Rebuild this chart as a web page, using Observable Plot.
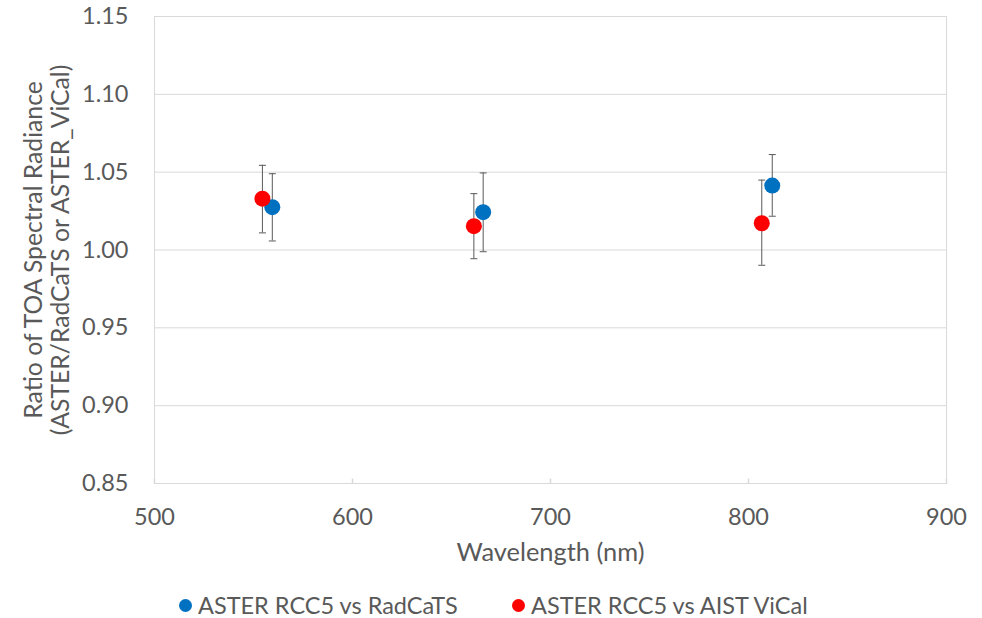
<!DOCTYPE html>
<html>
<head>
<meta charset="utf-8">
<script src="https://cdn.jsdelivr.net/npm/d3@7"></script>
<script src="https://cdn.jsdelivr.net/npm/@observablehq/plot@0.6"></script>
<style>
  html, body { margin: 0; padding: 0; background: #fff; }
  #chart { width: 982px; }
  .legend { position: relative; height: 48px; font-family: Lato, sans-serif; font-size: 23.5px; line-height: 24px; color: #595959; }
  .item { display: flex; align-items: center; position: absolute; top: 23px; }
  .sw { width: 13px; height: 13px; border-radius: 50%; display: inline-block; margin-right: 6px; }
</style>
</head>
<body>
<div id="chart"></div>
<script>
// ---- data ----
const seriesNames = ["ASTER RCC5 vs RadCaTS", "ASTER RCC5 vs AIST ViCal"];
const seriesColors = ["#0070C0", "#FF0000"];

const radcatsWavelength = [559.5, 666, 812];
const radcatsRatio = [1.0275, 1.0243, 1.0414];
const radcatsLow = [1.0058, 0.9989, 1.0217];
const radcatsHigh = [1.049, 1.0495, 1.0613];

const vicalWavelength = [554.5, 661.3, 806.7];
const vicalRatio = [1.033, 1.0153, 1.0172];
const vicalLow = [1.011, 0.9944, 0.9902];
const vicalHigh = [1.0544, 1.0362, 1.0449];

const xTicks = [500, 600, 700, 800, 900];
const yTicks = [0.85, 0.90, 0.95, 1.00, 1.05, 1.10, 1.15];
const xLabel = "Wavelength (nm)";
const yLabel = "Ratio of TOA Spectral Radiance\n(ASTER/RadCaTS or ASTER_ViCal)";

// ---- build ----
function rows(name, w, r, lo, hi) {
  return w.map((x, i) => ({series: name, x, y: r[i], lo: lo[i], hi: hi[i]}));
}
const radcats = rows(seriesNames[0], radcatsWavelength, radcatsRatio, radcatsLow, radcatsHigh);
const vical = rows(seriesNames[1], vicalWavelength, vicalRatio, vicalLow, vicalHigh);

const capSymbol = { draw(ctx) { ctx.moveTo(-3.5, 0); ctx.lineTo(3.5, 0); } };
const innerTick = { draw(ctx) { ctx.moveTo(0, 0); ctx.lineTo(0, -5); } };
const errColor = "#595959";
const textColor = "#595959";

function seriesMarks(data, color) {
  return [
    Plot.ruleX(data, {x: "x", y1: "lo", y2: "hi", stroke: errColor, strokeWidth: 1}),
    Plot.dot(data, {x: "x", y: "lo", symbol: capSymbol, stroke: errColor, strokeWidth: 1}),
    Plot.dot(data, {x: "x", y: "hi", symbol: capSymbol, stroke: errColor, strokeWidth: 1}),
    Plot.dot(data, {x: "x", y: "y", r: 8, fill: color, stroke: "none"})
  ];
}

const chart = Plot.plot({
  width: 982,
  height: 570,
  marginTop: 16,
  marginLeft: 154,
  marginRight: 36,
  marginBottom: 87,
  style: {fontFamily: "Lato, sans-serif", fontSize: "23px", color: textColor, background: "white", overflow: "visible"},
  x: {domain: [500, 900]},
  y: {domain: [0.85, 1.15]},
  marks: [
    Plot.gridY(yTicks, {stroke: "#d9d9d9", strokeOpacity: 1}),
    Plot.frame({stroke: "#d9d9d9"}),
    Plot.dot(xTicks, {x: d => d, frameAnchor: "bottom", symbol: innerTick, stroke: "#d9d9d9"}),
    Plot.axisY(yTicks, {tickSize: 0, tickPadding: 26, tickFormat: d3.format(".2f"), fill: textColor, fontSize: 23.5, label: null}),
    Plot.axisX(xTicks, {tickSize: 0, tickPadding: 25, tickFormat: d3.format("d"), fill: textColor, fontSize: 23.5, label: null}),
    Plot.text([yLabel], {frameAnchor: "left", dx: -132, rotate: -90, textAnchor: "middle", lineAnchor: "top",
      lineHeight: 1.09, fontSize: 24.7, fill: textColor}),
    Plot.text([xLabel], {frameAnchor: "bottom", dy: 69, textAnchor: "middle", lineAnchor: "middle", fontSize: 25.4, fill: textColor}),
    ...seriesMarks(radcats, seriesColors[0]),
    ...seriesMarks(vical, seriesColors[1])
  ]
});
document.getElementById("chart").appendChild(chart);

// legend
const legend = document.createElement("div");
legend.className = "legend";
const legendX = [179, 512];
seriesNames.forEach((name, i) => {
  const item = document.createElement("div");
  item.className = "item";
  item.style.left = legendX[i] + "px";
  const sw = document.createElement("span");
  sw.className = "sw";
  sw.style.background = seriesColors[i];
  item.appendChild(sw);
  item.appendChild(document.createTextNode(name));
  legend.appendChild(item);
});
document.getElementById("chart").appendChild(legend);
</script>
</body>
</html>
